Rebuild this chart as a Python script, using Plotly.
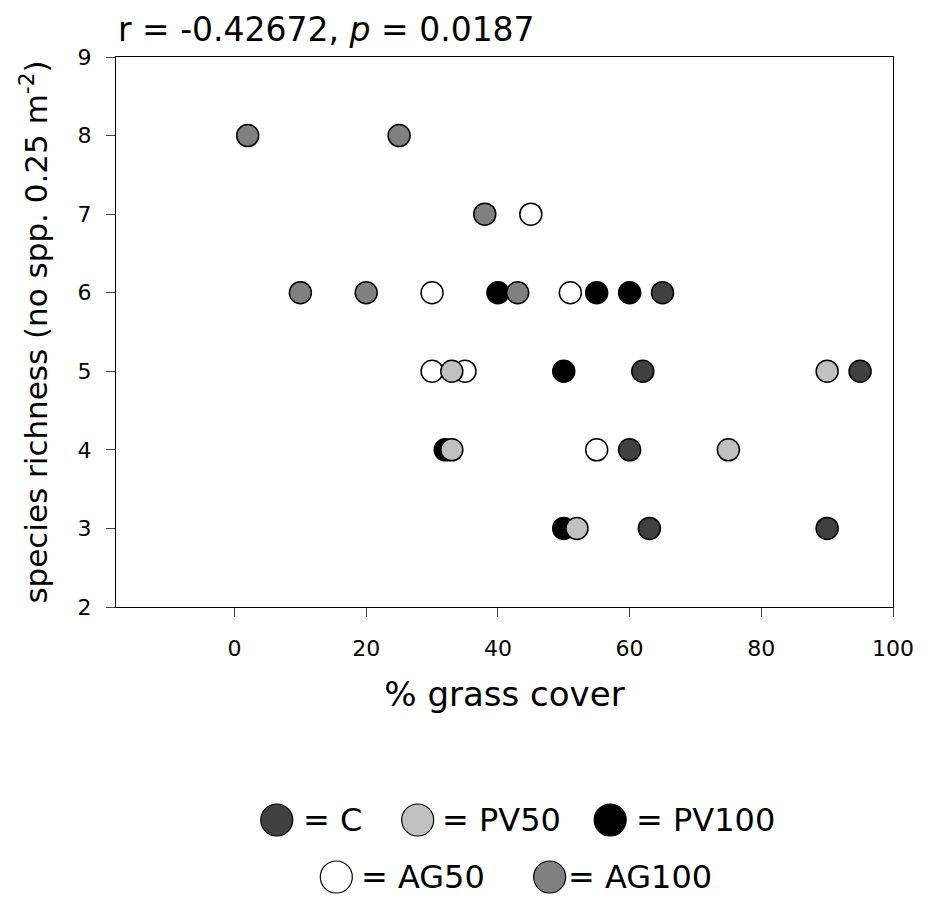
import plotly.graph_objects as go

# ---- data ----
C_x = [65, 62, 95, 60, 63, 90]
C_y = [6, 5, 5, 4, 3, 3]
PV50_x = [33, 90, 33, 75, 52]
PV50_y = [5, 5, 4, 4, 3]
PV100_x = [40, 55, 60, 50, 32, 50]
PV100_y = [6, 6, 6, 5, 4, 3]
AG50_x = [45, 30, 51, 30, 35, 55]
AG50_y = [7, 6, 6, 5, 5, 4]
AG100_x = [2, 25, 38, 10, 20, 43]
AG100_y = [8, 8, 7, 6, 6, 6]

x_ticks = [0, 20, 40, 60, 80, 100]
y_ticks = [2, 3, 4, 5, 6, 7, 8, 9]

colors = {"C": "#404040", "PV50": "#c0c0c0", "PV100": "#000000",
          "AG50": "#ffffff", "AG100": "#808080"}

series = [("C", C_x, C_y), ("PV100", PV100_x, PV100_y), ("AG50", AG50_x, AG50_y),
          ("PV50", PV50_x, PV50_y), ("AG100", AG100_x, AG100_y)]

# page body has an 8px margin; figure is sized to fill the rest of the window
OFF = 8
W, H = 926 - OFF, 898 - OFF
L, T = 116 - OFF, 57 - OFF
PW, PH = 783, 550
R, B = W - L - PW, H - T - PH
FONT = "DejaVu Sans, Verdana, sans-serif"

fig = go.Figure()
for name, xs, ys in series:
    fig.add_trace(go.Scatter(
        x=xs, y=ys, mode="markers", name=name, showlegend=False,
        marker=dict(size=22, color=colors[name], line=dict(color="black", width=1.5)),
    ))

# ---- custom legend (layout decoration), positions in page pixels ----
def px(xp):
    return (xp - OFF - L) / PW
def py(yp):
    return (T + PH - (yp - OFF)) / PH

legend_rows = [
    [("C", 278, 302), ("PV50", 420, 442), ("PV100", 614, 638)],
    [("AG50", 338, 361), ("AG100", 553, 569)],
]
legend_row_y = [820, 877]
shapes, annots = [], []
for row, yrow in zip(legend_rows, legend_row_y):
    for name, cx, tx in row:
        shapes.append(dict(type="circle", xref="paper", yref="paper",
                           xsizemode="pixel", ysizemode="pixel",
                           xanchor=px(cx), yanchor=py(yrow),
                           x0=-16, x1=16, y0=-16, y1=16,
                           fillcolor=colors[name], line=dict(color="black", width=1.2)))
        annots.append(dict(text="= " + name, xref="paper", yref="paper",
                           x=px(tx), y=py(yrow), xanchor="left", yanchor="middle",
                           showarrow=False, font=dict(size=32, color="black", family=FONT)))

fig.update_layout(
    width=W, height=H,
    margin=dict(l=L, r=R, t=T, b=B, pad=0),
    plot_bgcolor="white", paper_bgcolor="white",
    font=dict(family=FONT, color="black"),
    title=dict(text="r = -0.42672, <i>p</i> = 0.0187", x=(118 - OFF) / W, xanchor="left",
               y=1 - (29 - OFF) / H, yanchor="middle",
               font=dict(size=33, color="black", family=FONT)),
    shapes=shapes, annotations=annots,
    xaxis=dict(range=[-18, 100], tickvals=x_ticks, ticks="outside", ticklen=9,
               tickwidth=1.2, showline=True, linecolor="black", linewidth=1.2,
               mirror=True, showgrid=False, zeroline=False,
               tickfont=dict(size=22), ticklabelstandoff=12,
               title=dict(text="% grass cover", font=dict(size=34), standoff=22)),
    yaxis=dict(range=[2, 9], tickvals=y_ticks, ticks="outside", ticklen=9,
               tickwidth=1.2, showline=True, linecolor="black", linewidth=1.2,
               mirror=True, showgrid=False, zeroline=False,
               tickfont=dict(size=22), ticklabelstandoff=10,
               title=dict(text="species richness (no spp. 0.25 m<sup>-2</sup>)",
                          font=dict(size=31), standoff=20)),
)

fig.write_html("out.html")
